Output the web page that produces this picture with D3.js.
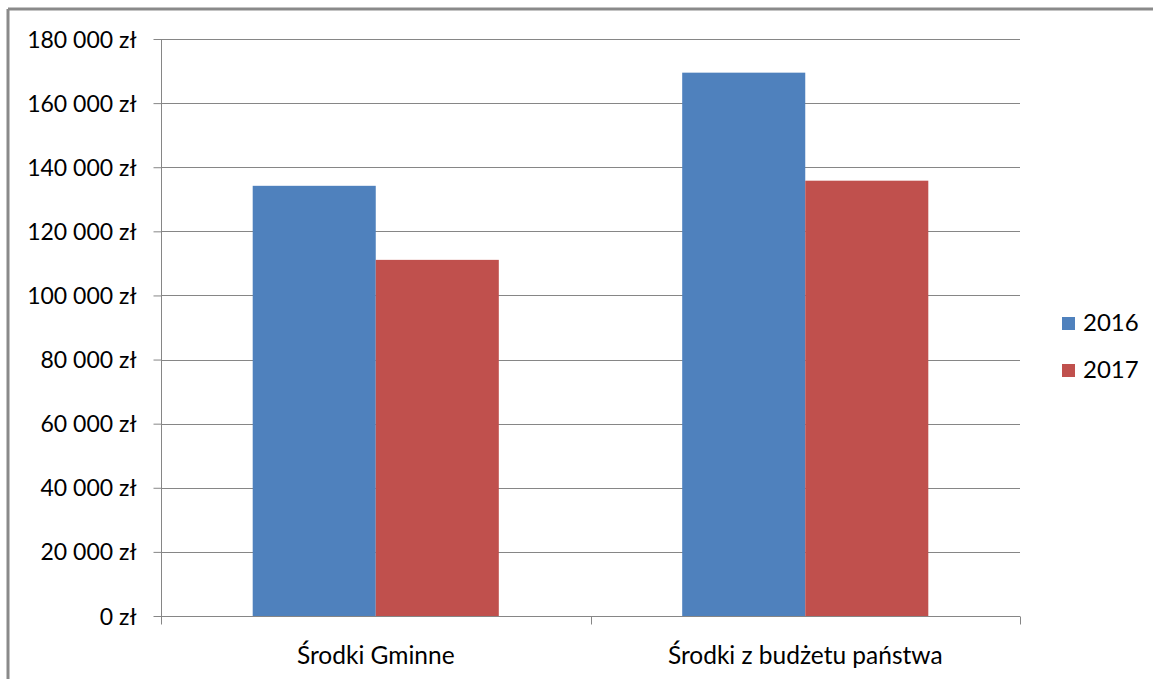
<!DOCTYPE html>
<html>
<head>
<meta charset="utf-8">
<script src="https://cdn.jsdelivr.net/npm/d3@7"></script>
<style>
  body { margin: 0; background: #fff; }
  #chart { width: 1153px; height: 679px; }
  text { font-family: Lato, "Liberation Sans", sans-serif; fill: #000; }
</style>
</head>
<body>
<div id="chart"></div>
<script>
// data
const categories = ["Środki Gminne", "Środki z budżetu państwa"];
const years = ["2016", "2017"];
const values2016 = [134200, 169500];
const values2017 = [111100, 135800];
const yTicks = [0, 20000, 40000, 60000, 80000, 100000, 120000, 140000, 160000, 180000];
const colors = ["#4f81bd", "#c0504d"];

const W = 1153, H = 679;
const plot = {left: 161, right: 1020, top: 39, bottom: 616};

const svg = d3.select("#chart").append("svg")
    .attr("width", W)
    .attr("height", H);

// outer frame (only top and left visible)
svg.append("line").attr("x1", 8).attr("x2", W).attr("y1", 9).attr("y2", 9)
    .attr("stroke", "#8a8a8a").attr("stroke-width", 3);
svg.append("line").attr("x1", 8).attr("x2", 8).attr("y1", 9).attr("y2", H)
    .attr("stroke", "#8a8a8a").attr("stroke-width", 3);

let y = d3.scaleLinear()
    .domain([0, 180000])
    .range([plot.bottom, plot.top]);

let x = d3.scaleBand()
    .domain(categories)
    .range([plot.left, plot.right])
    .paddingInner(0.427)
    .paddingOuter(0.2135);

let xSub = d3.scaleBand()
    .domain(years)
    .range([0, x.bandwidth()]);

// gridlines
svg.append("g")
    .selectAll("line")
    .data(yTicks.slice(1))
    .enter().append("line")
    .attr("x1", plot.left)
    .attr("x2", plot.right)
    .attr("y1", d => Math.round(y(d)) + 0.5)
    .attr("y2", d => Math.round(y(d)) + 0.5)
    .attr("stroke", "#868686")
    .attr("stroke-width", 1);

// bars
let rows = categories.map((c, i) => ({cat: c, vals: [values2016[i], values2017[i]]}));
let groups = svg.selectAll(".grp")
    .data(rows)
    .enter().append("g")
    .attr("class", "grp")
    .attr("transform", d => `translate(${x(d.cat)},0)`);

groups.selectAll("rect")
    .data(d => d.vals.map((v, j) => ({year: years[j], value: v, j: j})))
    .enter().append("rect")
    .attr("x", d => xSub(d.year))
    .attr("width", xSub.bandwidth())
    .attr("y", d => y(d.value))
    .attr("height", d => y(0) - y(d.value))
    .attr("fill", d => colors[d.j]);

// y axis
let yAxis = d3.axisLeft(y)
    .tickValues(yTicks)
    .tickSize(8)
    .tickPadding(17)
    .tickFormat(d => d3.format(",")(d).replace(/,/g, " ") + " zł");

let yg = svg.append("g")
    .attr("transform", `translate(${plot.left + 0.5},0)`)
    .call(yAxis);
yg.select(".domain").attr("stroke", "#868686").attr("d", `M0,${plot.top}V${plot.bottom + 8}`);
yg.selectAll(".tick line").attr("stroke", "#868686");
yg.selectAll(".tick text")
    .style("font-size", "23px")
    .attr("dy", "0.35em");

// x axis
let xg = svg.append("g")
    .attr("transform", `translate(0,${plot.bottom + 0.5})`);
xg.append("line")
    .attr("x1", plot.left).attr("x2", plot.right)
    .attr("stroke", "#868686");
let xEdges = [plot.left, plot.left + (plot.right - plot.left) / 2, plot.right];
xg.selectAll(".xtick")
    .data(xEdges)
    .enter().append("line")
    .attr("class", "xtick")
    .attr("x1", d => Math.round(d) + 0.5)
    .attr("x2", d => Math.round(d) + 0.5)
    .attr("y1", 0).attr("y2", 8)
    .attr("stroke", "#868686");
xg.selectAll(".xlabel")
    .data(categories)
    .enter().append("text")
    .attr("class", "xlabel")
    .attr("x", d => x(d) + x.bandwidth() / 2)
    .attr("y", 47)
    .attr("text-anchor", "middle")
    .style("font-size", "24.5px")
    .text(d => d);

// legend
let legend = svg.selectAll(".legend")
    .data(years)
    .enter().append("g")
    .attr("class", "legend")
    .attr("transform", (d, i) => `translate(1062,${317 + i * 47})`);
legend.append("rect")
    .attr("width", 13).attr("height", 13)
    .attr("fill", (d, i) => colors[i]);
legend.append("text")
    .attr("x", 21)
    .attr("y", 14)
    .style("font-size", "24px")
    .text(d => d);
</script>
</body>
</html>
